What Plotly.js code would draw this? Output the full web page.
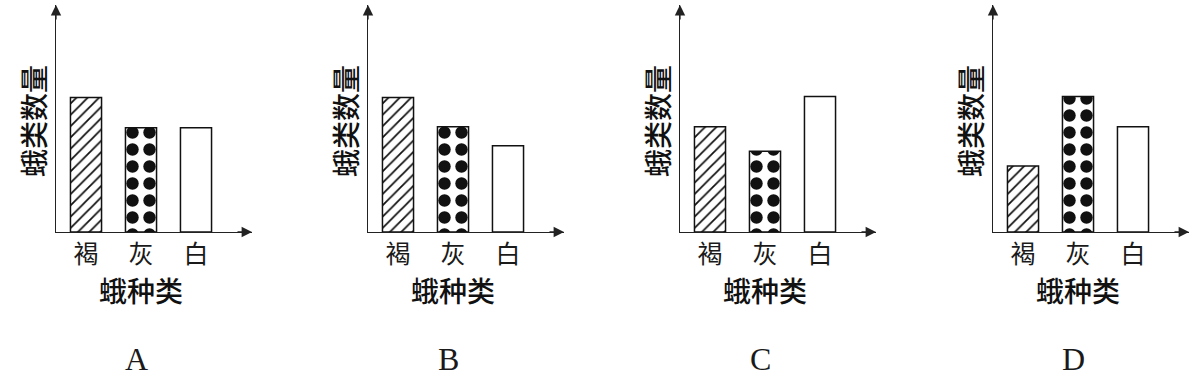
<!DOCTYPE html>
<html>
<head>
<meta charset="utf-8">
<script src="https://cdn.plot.ly/plotly-3.0.1.min.js"></script>
<style>html,body{margin:0;padding:0;background:#fff;}#chart{width:1196px;height:378px;}</style>
</head>
<body>
<div id="chart"></div>
<script>
// ---- data ----
const categories = ['褐', '灰', '白'];
const panelNames = ['A', 'B', 'C', 'D'];
const valuesA = [6.0, 4.65, 4.65];
const valuesB = [6.0, 4.7, 3.85];
const valuesC = [4.7, 3.6, 6.05];
const valuesD = [2.95, 6.05, 4.7];
const yTitle = '蛾类数量';
const xTitle = '蛾种类';

// ---- layout ----
const W = 1196, H = 378;
const panelValues = [valuesA, valuesB, valuesC, valuesD];
const axisLeftPx = [56, 368, 680, 993];
const axisLenPx = 196;
const unitPx = 55;
const firstCenterOffsetPx = 30;
const axisBottomPx = 232, axisTopPx = 5;
const pxPerValue = 22.4;
const CJK = '"Noto Sans CJK SC", "Noto Sans", sans-serif';

const traces = [];
const layout = {
  width: W, height: H,
  margin: {l: 0, r: 0, t: 0, b: 0},
  paper_bgcolor: '#fff', plot_bgcolor: 'rgba(0,0,0,0)',
  showlegend: false,
  bargap: 0,
  annotations: []
};

panelValues.forEach((vals, i) => {
  const sfx = i === 0 ? '' : String(i + 1);
  const xa = 'x' + sfx, ya = 'y' + sfx;
  traces.push({
    type: 'bar',
    x: categories,
    y: vals,
    xaxis: xa, yaxis: ya,
    width: 0.565,
    hoverinfo: 'skip',
    marker: {
      color: '#fff',
      line: {color: '#111', width: 1.5},
      pattern: {
        shape: ['/', '.', ''],
        size: [8, 17, 8],
        solidity: [0.22, 0.42, 0.1],
        fgcolor: '#111',
        bgcolor: '#fff',
        fillmode: 'replace'
      }
    }
  });
  const left = axisLeftPx[i];
  const r0 = -firstCenterOffsetPx / unitPx;
  layout['xaxis' + sfx] = {
    domain: [left / W, (left + axisLenPx) / W],
    range: [r0, r0 + axisLenPx / unitPx],
    type: 'category',
    anchor: ya,
    showline: true, linecolor: '#222', linewidth: 1.3,
    showgrid: false, zeroline: false, ticks: '',
    tickfont: {family: CJK, size: 25, color: '#1a1a1a'},
    ticklabelstandoff: 0,
    fixedrange: true
  };
  layout['yaxis' + sfx] = {
    domain: [1 - axisBottomPx / H, 1 - axisTopPx / H],
    range: [0, (axisBottomPx - axisTopPx) / pxPerValue],
    anchor: xa,
    showline: true, linecolor: '#222', linewidth: 1.3,
    showgrid: false, zeroline: false, ticks: '', showticklabels: false,
    fixedrange: true
  };
  // arrowheads
  layout.annotations.push({
    xref: xa + ' domain', yref: ya + ' domain', x: 0, y: 1,
    axref: 'pixel', ayref: 'pixel', ax: 0, ay: 16,
    showarrow: true, arrowhead: 2, arrowsize: 1.6, arrowwidth: 1.3, arrowcolor: '#222', text: ''
  });
  layout.annotations.push({
    xref: xa + ' domain', yref: ya + ' domain', x: 1, y: 0,
    ax: -16, ay: 0,
    showarrow: true, arrowhead: 2, arrowsize: 1.6, arrowwidth: 1.3, arrowcolor: '#222', text: ''
  });
  // y title
  layout.annotations.push({
    xref: xa + ' domain', yref: 'paper', x: 0, y: 1 - 121 / H,
    xshift: -23, xanchor: 'center', yanchor: 'middle',
    textangle: -90, showarrow: false, text: yTitle,
    font: {family: CJK, size: 28, color: '#111', weight: 500}
  });
  // x title
  layout.annotations.push({
    xref: xa, yref: 'paper', x: 1, y: 1 - 290 / H,
    xanchor: 'center', yanchor: 'middle', showarrow: false, text: xTitle,
    font: {family: CJK, size: 28, color: '#111', weight: 500}
  });
  // panel letter
  layout.annotations.push({
    xref: xa, yref: 'paper', x: 0.92, y: 1 - 359 / H,
    xanchor: 'center', yanchor: 'middle', showarrow: false, text: panelNames[i],
    font: {family: '"Liberation Serif", "DejaVu Serif", serif', size: 32, color: '#1a1a1a'}
  });
});

Plotly.newPlot('chart', traces, layout, {staticPlot: true, displayModeBar: false});
</script>
</body>
</html>
